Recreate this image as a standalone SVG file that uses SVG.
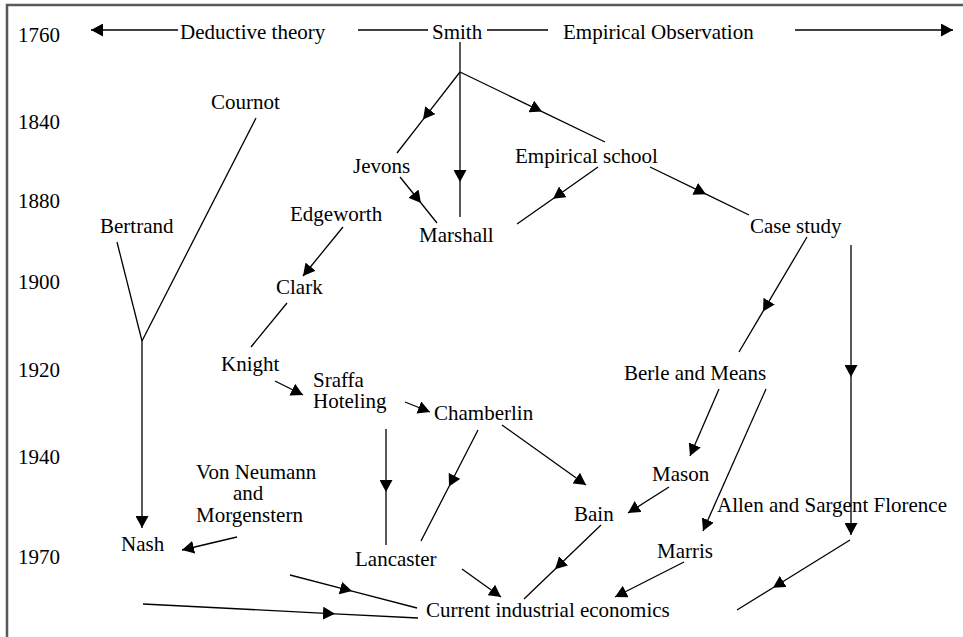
<svg xmlns="http://www.w3.org/2000/svg" width="963" height="637" viewBox="0 0 963 637">
<style>
text{font-family:"Liberation Serif","Times New Roman",serif;font-size:21px;fill:#000}
.c{fill:none;stroke:#000;stroke-width:1.3}
.e{marker-end:url(#ah)}
.m{marker-mid:url(#ah)}
</style>
<defs>
<marker id="ah" markerUnits="userSpaceOnUse" markerWidth="13" markerHeight="13" refX="12" refY="6.5" orient="auto" viewBox="0 0 13 13">
<path d="M0,0 L12,6.5 L0,13 z" fill="#000"/>
</marker>
</defs>
<rect width="963" height="637" fill="#fff"/>
<path d="M7,637 V5 H963" fill="none" stroke="#595959" stroke-width="2.5"/>
<g id="years">
<text x="18" y="42">1760</text>
<text x="18" y="129">1840</text>
<text x="18" y="208">1880</text>
<text x="18" y="289">1900</text>
<text x="18" y="377">1920</text>
<text x="18" y="464">1940</text>
<text x="18" y="564">1970</text>
</g>
<g id="deductive"><text x="180" y="39">Deductive theory</text></g>
<g id="smith"><text x="432" y="39">Smith</text></g>
<g id="empirical-observation"><text x="563" y="39">Empirical Observation</text></g>
<g id="cournot"><text x="211" y="109">Cournot</text></g>
<g id="jevons"><text x="353" y="173">Jevons</text></g>
<g id="empirical-school"><text x="515" y="163">Empirical school</text></g>
<g id="bertrand"><text x="100" y="233">Bertrand</text></g>
<g id="edgeworth"><text x="290" y="221">Edgeworth</text></g>
<g id="marshall"><text x="419" y="242">Marshall</text></g>
<g id="case-study"><text x="750" y="233">Case study</text></g>
<g id="clark"><text x="276" y="294">Clark</text></g>
<g id="knight"><text x="221" y="371">Knight</text></g>
<g id="sraffa-hoteling"><text x="313" y="387">Sraffa</text><text x="313" y="408">Hoteling</text></g>
<g id="chamberlin"><text x="434" y="420">Chamberlin</text></g>
<g id="berle-means"><text x="624" y="380">Berle and Means</text></g>
<g id="mason"><text x="652" y="481">Mason</text></g>
<g id="von-neumann"><text x="196" y="479">Von Neumann</text><text x="233" y="500">and</text><text x="196" y="522">Morgenstern</text></g>
<g id="bain"><text x="574" y="521">Bain</text></g>
<g id="allen"><text x="717" y="512">Allen and Sargent Florence</text></g>
<g id="nash"><text x="121" y="551">Nash</text></g>
<g id="marris"><text x="657" y="558">Marris</text></g>
<g id="lancaster"><text x="355" y="566">Lancaster</text></g>
<g id="current"><text x="426" y="617">Current industrial economics</text></g>
<g id="connectors">
<polyline class="c e" points="178,30 91,30"/>
<polyline class="c" points="358,30 428,30"/>
<polyline class="c" points="487,30 548,30"/>
<polyline class="c e" points="795,30 953,30"/>
<polyline class="c m" points="460,42 460,182 460,217"/>
<polyline class="c m" points="460,72 423,119.6 397,153"/>
<polyline class="c m" points="460,72 542,111.6 605,142"/>
<polyline class="c m" points="400,177 421,203 437,223"/>
<polyline class="c m" points="598,167 553,198.7 517,224"/>
<polyline class="c m" points="650,167 706,194.2 749,215"/>
<polyline class="c m" points="807,237 763,311.4 739,352"/>
<polyline class="c m e" points="851,245 851,377 851,535"/>
<polyline class="c m" points="850,540 773,587.7 737,610"/>
<polyline class="c e" points="719,389 690,456"/>
<polyline class="c e" points="766,389 703,531"/>
<polyline class="c e" points="669,487 628,513"/>
<polyline class="c m" points="601,525 555,569.2 524,599"/>
<polyline class="c e" points="684,562 615,597"/>
<polyline class="c" points="256,118 142,341"/>
<polyline class="c" points="117,242 142,341"/>
<polyline class="c e" points="142,341 142,528"/>
<polyline class="c e" points="237,537 182,550"/>
<polyline class="c e" points="343,227 303,276"/>
<polyline class="c" points="287,303 251,347"/>
<polyline class="c e" points="275,381 303,395"/>
<polyline class="c e" points="405,402 430,412"/>
<polyline class="c m" points="386,429 386,492 386,545"/>
<polyline class="c m" points="478,430 449,486.5 421,541"/>
<polyline class="c e" points="502,425 586,485"/>
<polyline class="c e" points="462,569 501,597"/>
<polyline class="c m" points="290,575 352,591.1 417,608"/>
<polyline class="c m" points="143,604 335,613.8 418,618"/>
</g>
</svg>
